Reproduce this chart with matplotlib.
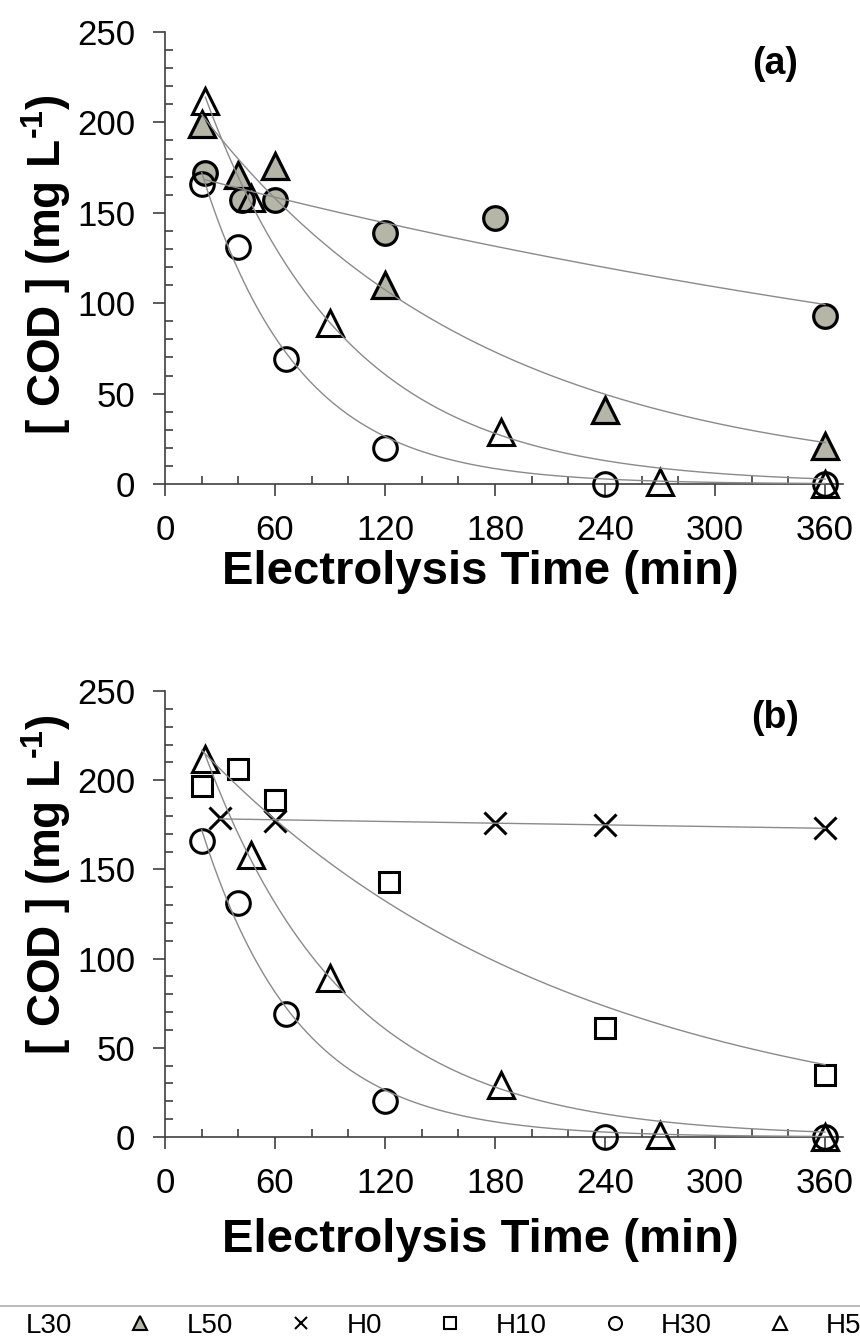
import numpy as np
import matplotlib
matplotlib.use('Agg')
import matplotlib.pyplot as plt
from matplotlib.lines import Line2D
from matplotlib.ticker import MultipleLocator
from matplotlib import font_manager

plt.rcParams['font.family'] = ['Liberation Sans', 'DejaVu Sans']
plt.rcParams['mathtext.fontset'] = 'custom'
plt.rcParams['mathtext.rm'] = 'Liberation Sans:bold'
plt.rcParams['mathtext.it'] = 'Liberation Sans:bold'
plt.rcParams['mathtext.bf'] = 'Liberation Sans:bold'

# ---------------- data ----------------
t_L30 = [22, 42, 60, 120, 180, 360]
c_L30 = [172, 157, 157, 139, 147, 93]
t_L50 = [20, 40, 60, 120, 240, 360]
c_L50 = [199, 171, 176, 110, 41, 21]
t_H0 = [30, 60, 180, 240, 360]
c_H0 = [179, 177, 176, 175, 173]
t_H10 = [20, 40, 60, 122, 240, 360]
c_H10 = [197, 206, 189, 143, 61, 35]
t_H30 = [20, 40, 66, 120, 240, 360]
c_H30 = [166, 131, 69, 20, 0, 0]
t_H50 = [22, 47, 90, 183, 270, 360]
c_H50 = [212, 158, 89, 29, 1, 0]

x_ticks = [0, 60, 120, 180, 240, 300, 360]
y_ticks = [0, 50, 100, 150, 200, 250]
labels = ['L30', 'L50', 'H0', 'H10', 'H30', 'H50']

GRAY = '#b5b5a8'
LINE = '#8a8a8a'
SPINE = '#404040'


def exp_fit(t, c):
    t = np.asarray(t, float)
    c = np.asarray(c, float)
    best = (np.inf, 0, 0)
    for k in np.linspace(1e-6, 0.08, 8000):
        e = np.exp(-k * t)
        A = (c @ e) / (e @ e)
        sse = ((c - A * e) ** 2).sum()
        if sse < best[0]:
            best = (sse, A, k)
    _, A, k = best
    tt = np.linspace(t.min(), t.max(), 300)
    return tt, A * np.exp(-k * tt)


styles = {
    'L30': dict(marker='o', ms=17, mfc=GRAY, mec='black', mew=2.3),
    'L50': dict(marker='^', ms=19, mfc=GRAY, mec='black', mew=2.3),
    'H0': dict(marker='x', ms=16, mfc='none', mec='black', mew=2.2),
    'H10': dict(marker='s', ms=15, mfc='none', mec='black', mew=2.2),
    'H30': dict(marker='o', ms=17, mfc='none', mec='black', mew=2.2),
    'H50': dict(marker='^', ms=19, mfc='none', mec='black', mew=2.2),
}

fig = plt.figure(figsize=(8.6, 13.4), dpi=100)
W, H = 860, 1340
xmax = 370
pxper = 110 / 60.0


def make_axes(bottom_px, top_px):
    ax = fig.add_axes([165 / W, 1 - bottom_px / H, xmax * pxper / W, (bottom_px - top_px) / H])
    ax.set_xlim(0, xmax)
    ax.set_ylim(0, 250)
    ax.spines['top'].set_visible(False)
    ax.spines['right'].set_visible(False)
    for s in ('left', 'bottom'):
        ax.spines[s].set_color(SPINE)
        ax.spines[s].set_linewidth(1.2)
    ax.set_xticks(x_ticks)
    ax.set_yticks(y_ticks)
    ax.xaxis.set_minor_locator(MultipleLocator(20))
    ax.yaxis.set_minor_locator(MultipleLocator(10))
    ax.tick_params(which='major', direction='out', length=8.5, width=1.2, color=SPINE,
                   labelsize=25, pad=13)
    ax.tick_params(which='minor', direction='in', length=6, width=1.2, color=SPINE)
    ax.set_xlabel('Electrolysis Time (min)', fontsize=34, fontweight='bold', va='center')
    ax.set_ylabel(r'[ COD ] (mg L$^{\text{-1}}$)', fontsize=33, fontweight='bold', va='center')
    return ax


def draw(ax, name, t, c):
    tt, cc = exp_fit(t, c)
    ax.plot(tt, cc, color=LINE, lw=1.0, zorder=4, clip_on=False)
    ax.plot(t, c, ls='none', zorder=3, clip_on=False, **styles[name])


ax_a = make_axes(484, 32)
for name, t, c in (('L30', t_L30, c_L30), ('L50', t_L50, c_L50),
                   ('H30', t_H30, c_H30), ('H50', t_H50, c_H50)):
    draw(ax_a, name, t, c)

ax_b = make_axes(1137, 691)
for name, t, c in (('H0', t_H0, c_H0), ('H10', t_H10, c_H10),
                   ('H30', t_H30, c_H30), ('H50', t_H50, c_H50)):
    draw(ax_b, name, t, c)

ax_a.yaxis.set_label_coords(-0.1754, 0.486)
ax_b.yaxis.set_label_coords(-0.1754, 0.567)
ax_a.xaxis.set_label_coords(0.4646, -0.1947)
ax_b.xaxis.set_label_coords(0.4646, -0.231)

fig.text(775 / W, 1 - 64 / H, '(a)', fontsize=27, fontweight='bold', ha='center', va='center')
fig.text(775 / W, 1 - 718 / H, '(b)', fontsize=27, fontweight='bold', ha='center', va='center')

# legend (wider than the figure, cut at both sides as in the original)
try:
    font_manager.findfont('Liberation Sans Narrow', fallback_to_default=False)
    leg_family, leg_size = 'Liberation Sans Narrow', 23
except Exception:
    leg_family, leg_size = 'Liberation Sans', 20
em = leg_size * 100 / 72.0
ltxt = 46 - em / 2
handles = []
for name in labels:
    st = dict(styles[name])
    st['ms'] = st['ms'] * 0.55
    st['mew'] = 1.5
    handles.append(Line2D([], [], ls='none', **st))
frame_left = 26 - 46 - em / 2 - 0.25 * em
leg = fig.legend(handles, labels, loc='upper left', bbox_to_anchor=(frame_left / W, 1 - 1306 / H),
                 ncol=6, prop=dict(family=leg_family, size=leg_size), frameon=True,
                 fancybox=False, borderaxespad=0, handlelength=1.0,
                 handletextpad=ltxt / em, columnspacing=54 / em, borderpad=0.25)
leg.get_frame().set_edgecolor('#999999')
leg.get_frame().set_linewidth(1.2)

fig.savefig('out.png', dpi=100)
